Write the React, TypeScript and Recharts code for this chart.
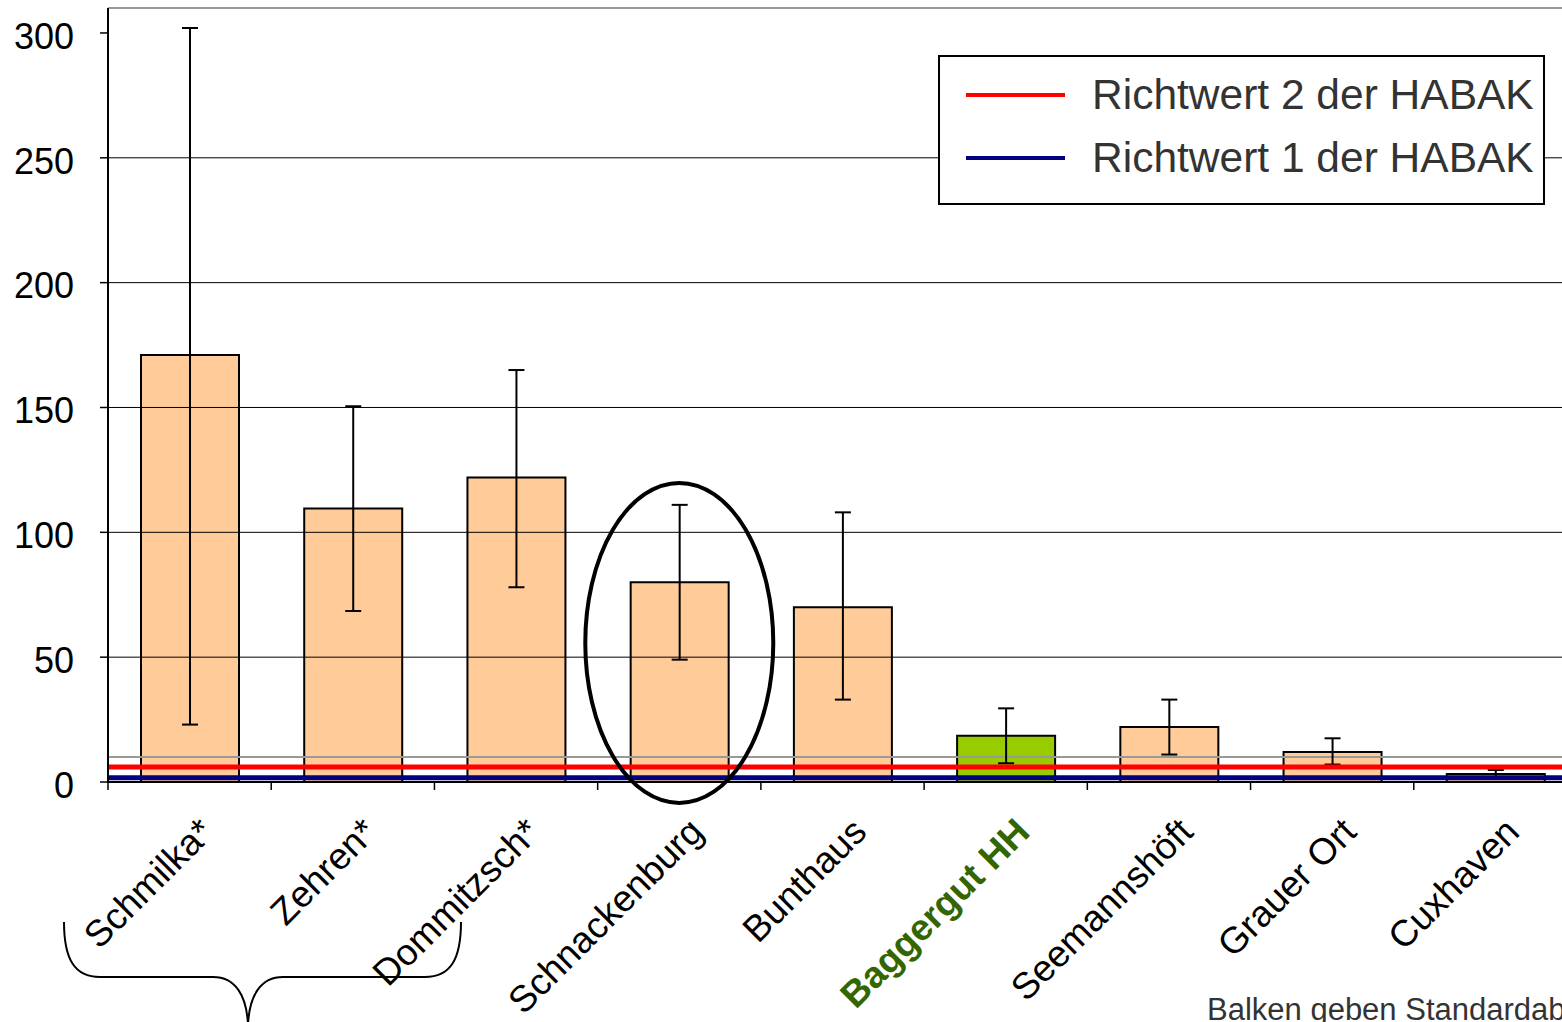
import React from "react";
import {
  BarChart,
  Bar,
  XAxis,
  YAxis,
  ReferenceLine,
  ReferenceDot,
  ErrorBar,
  Cell,
  Legend,
} from "recharts";

const sites = [
  "Schmilka*",
  "Zehren*",
  "Dommitzsch*",
  "Schnackenburg",
  "Bunthaus",
  "Baggergut HH",
  "Seemannshöft",
  "Grauer Ort",
  "Cuxhaven",
];
const means = [171, 109.5, 122, 80, 70, 18.5, 22, 12, 3.2];
const errLow = [148, 41, 44, 31, 37, 11, 11, 5, 1.5];
const errHigh = [131, 41, 43, 31, 38, 11, 11, 5.5, 1.6];

const yTicks = [0, 50, 100, 150, 200, 250, 300];
const gridValues = [50, 100, 150, 200, 250];
const lightGridValues = [10, 310];

const richtwert2 = 6;
const richtwert1 = 1.7;
const legendItems = [
  { label: "Richtwert 2 der HABAK", color: "#FF0000" },
  { label: "Richtwert 1 der HABAK", color: "#000080" },
];

const highlightSite = "Baggergut HH";
const circledSite = "Schnackenburg";
const circleCenter = 55.7;
const footnote = "Balken geben Standardabweichung an";

const data = sites.map((site, i) => ({
  site,
  mean: means[i],
  err: [errLow[i], errHigh[i]],
}));

const FONT = "'Liberation Sans', Arial, sans-serif";
const CHART_W = 1590;
const CHART_H = 1022;
const MARGIN = { top: 8, right: 13, left: 0, bottom: 0 };
const Y_AXIS_W = 108;
const X_AXIS_H = 240;
const BAND = (CHART_W - MARGIN.right - Y_AXIS_W) / sites.length;

function SiteTick(props: any) {
  const { x, y, payload } = props;
  const hi = payload.value === highlightSite;
  const ax = x + 26;
  const ay = y + 52;
  return (
    <g>
      <line x1={x - BAND / 2} y1={y} x2={x - BAND / 2} y2={y + 8} stroke="#000" strokeWidth={1.5} />
      <text
        x={ax}
        y={ay}
        transform={`rotate(-45 ${ax} ${ay})`}
        textAnchor="end"
        fontSize={37}
        fontFamily={FONT}
        fontWeight={hi ? "bold" : "normal"}
        fill={hi ? "#336600" : "#000"}
      >
        {payload.value}
      </text>
    </g>
  );
}

function LegendBox() {
  return (
    <div
      style={{
        position: "relative",
        width: 607,
        height: 150,
        boxSizing: "border-box",
        border: "2px solid #000",
        background: "#fff",
        fontFamily: FONT,
      }}
    >
      {legendItems.map((item, i) => (
        <div
          key={item.label}
          style={{
            position: "absolute",
            left: 26,
            top: 7 + i * 63,
            height: 62,
            display: "flex",
            alignItems: "center",
            whiteSpace: "nowrap",
          }}
        >
          <div style={{ width: 99, height: 4, background: item.color, marginRight: 27 }} />
          <span style={{ fontSize: 42.5, color: "#333" }}>{item.label}</span>
        </div>
      ))}
    </div>
  );
}

export default function App() {
  return (
    <div
      style={{
        position: "fixed",
        left: 0,
        top: 0,
        width: 1562,
        height: 1022,
        overflow: "hidden",
        background: "#fff",
      }}
    >
      <BarChart width={CHART_W} height={CHART_H} data={data} margin={MARGIN} style={{ fontFamily: FONT }}>
        <XAxis
          dataKey="site"
          height={X_AXIS_H}
          interval={0}
          tickLine={false}
          tickSize={0}
          tickMargin={0}
          axisLine={{ stroke: "#000", strokeWidth: 2 }}
          tick={(p: any) => <SiteTick {...p} />}
        />
        <YAxis
          domain={[0, 310]}
          ticks={yTicks}
          interval={0}
          width={Y_AXIS_W}
          tickSize={8}
          tickMargin={26}
          allowDataOverflow
          axisLine={{ stroke: "#000", strokeWidth: 2 }}
          tickLine={{ stroke: "#000", strokeWidth: 1.5 }}
          tick={{ fontSize: 36, fill: "#000", fontFamily: FONT, dy: 3 }}
        />
        {gridValues.map((v) => (
          <ReferenceLine key={v} y={v} stroke="#000" strokeWidth={1} />
        ))}
        {lightGridValues.map((v) => (
          <ReferenceLine key={v} y={v} stroke="#999" strokeWidth={2} />
        ))}
        <Legend
          layout="horizontal"
          verticalAlign="middle"
          align="center"
          wrapperStyle={{ left: 938, top: 55, width: 607, height: 150 }}
          content={() => <LegendBox />}
        />
        <Bar dataKey="mean" barSize={98} fill="#FFCC99" stroke="#000" strokeWidth={2} isAnimationActive={false}>
          {data.map((d) => (
            <Cell key={d.site} fill={d.site === highlightSite ? "#99CC00" : "#FFCC99"} />
          ))}
          <ErrorBar dataKey="err" direction="y" width={8} stroke="#000" strokeWidth={2} isAnimationActive={false} />
        </Bar>
        <ReferenceLine y={richtwert2} stroke="#FF0000" strokeWidth={5} />
        <ReferenceLine y={richtwert1} stroke="#000080" strokeWidth={5} />
        <ReferenceDot
          x={circledSite}
          y={circleCenter}
          ifOverflow="visible"
          shape={(p: any) => (
            <ellipse cx={p.cx} cy={p.cy} rx={94} ry={160} fill="none" stroke="#000" strokeWidth={4} />
          )}
        />
      </BarChart>
      <svg
        width={1562}
        height={1022}
        style={{ position: "absolute", left: 0, top: 0, pointerEvents: "none" }}
      >
        <path
          d="M 64 922 C 64 960, 75 977, 100 977 L 213 977 C 235 977, 247 995, 248 1026 C 249 995, 261 977, 283 977 L 425 977 C 450 977, 461 960, 461 922"
          fill="none"
          stroke="#000"
          strokeWidth={2}
        />
        <text x={1207} y={1020} fontSize={31} fontFamily={FONT} fill="#333">
          {footnote}
        </text>
      </svg>
    </div>
  );
}
